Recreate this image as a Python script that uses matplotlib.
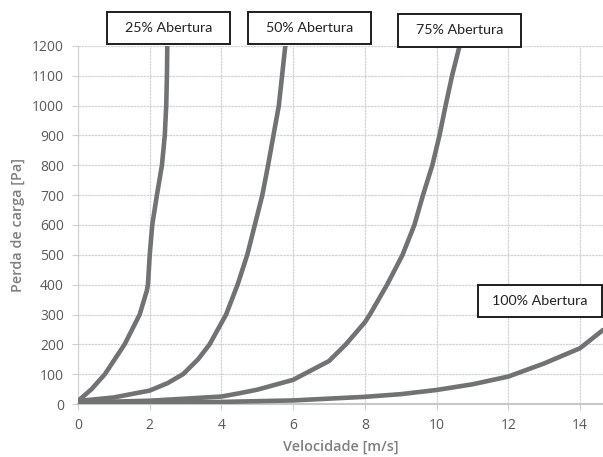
import matplotlib
matplotlib.use("Agg")
import matplotlib.pyplot as plt
from matplotlib.patches import Rectangle

# Data
v25 = [0.0, 0.38, 0.75, 1.3, 1.72, 1.92, 1.95, 2.0, 2.07, 2.2, 2.34, 2.42, 2.46, 2.48, 2.49]
p25 = [10, 50, 100, 200, 300, 380, 400, 500, 600, 700, 800, 900, 1000, 1100, 1200]

v50 = [0.0, 1.0, 2.0, 2.5, 2.93, 3.35, 3.67, 4.13, 4.45, 4.72, 4.93, 5.14, 5.3, 5.45, 5.6, 5.69, 5.78]
p50 = [10, 22, 45, 70, 100, 150, 200, 300, 400, 500, 600, 700, 800, 900, 1000, 1100, 1200]

v75 = [0.0, 2.0, 4.0, 4.5, 5.0, 6.0, 6.3, 7.0, 7.47, 8.0, 8.14, 8.62, 9.05, 9.38, 9.62, 9.88, 10.08, 10.25, 10.43, 10.64]
p75 = [5, 11, 25, 36, 48, 81, 100, 144, 200, 274, 300, 400, 500, 600, 700, 800, 900, 1000, 1100, 1200]

v100 = [0.0, 2.0, 4.0, 6.0, 8.0, 9.0, 10.0, 11.0, 12.0, 13.0, 14.0, 14.64]
p100 = [3, 4, 7, 12, 24, 33, 47, 66, 92, 136, 187, 248]

labels = ["25% Abertura", "50% Abertura", "75% Abertura", "100% Abertura"]
xticks = [0, 2, 4, 6, 8, 10, 12, 14]
yticks = list(range(0, 1201, 100))

plt.rcParams['font.family'] = ['Open Sans', 'DejaVu Sans']

W, H = 603, 457
fig = plt.figure(figsize=(W/100, H/100), dpi=100)
ax = fig.add_axes([78/W, 1 - 404/H, (W - 78)/W, (404 - 46)/H])

line_color = "#707274"
for v, p in [(v25, p25), (v50, p50), (v75, p75), (v100, p100)]:
    ax.plot(v, p, color=line_color, lw=3.3, solid_capstyle="round",
            solid_joinstyle="round", zorder=3)

ax.set_xlim(0, 14.64)
ax.set_ylim(0, 1200)
ax.set_xticks(xticks)
ax.set_yticks(yticks)
ax.grid(True, color="#d4d4d4", lw=0.9, linestyle=(0, (2, 0.6)))
ax.set_axisbelow(True)
for s in ["top", "right"]:
    ax.spines[s].set_visible(False)
ax.spines["left"].set_color("#d0d0d0")
ax.spines["bottom"].set_color("#c8c8c8")
ax.spines["bottom"].set_linewidth(1.5)
ax.tick_params(axis="both", colors="#d0d0d0", labelcolor="#595959", labelsize=10, length=4)
ax.tick_params(axis="x", pad=6)
ax.tick_params(axis="y", pad=6)

ax.set_xlabel("Velocidade [m/s]", color="#7f7f7f", fontsize=10.4, fontweight="semibold", labelpad=5)
ax.set_ylabel("Perda de carga [Pa]", color="#7f7f7f", fontsize=10.4, fontweight="semibold", labelpad=5)

# label boxes: (left, top, right, bottom) in pixels
boxes = [(107, 12, 230, 44), (248, 12, 371, 44), (398, 14, 521, 47), (478, 285, 602, 317)]
for lab, (x0, y0, x1, y1) in zip(labels, boxes):
    fig.patches.append(Rectangle((x0/W, 1 - y1/H), (x1 - x0)/W, (y1 - y0)/H,
                                 transform=fig.transFigure, fc="white", ec="#1e1e1e",
                                 lw=1.4, zorder=5))
    fig.text((x0 + x1)/2/W, 1 - (y0 + y1)/2/H, lab, ha="center", va="center",
             fontsize=10.3, family=["Lato", "DejaVu Sans"], color="#222222", zorder=6)

fig.savefig("out.png", dpi=100)
